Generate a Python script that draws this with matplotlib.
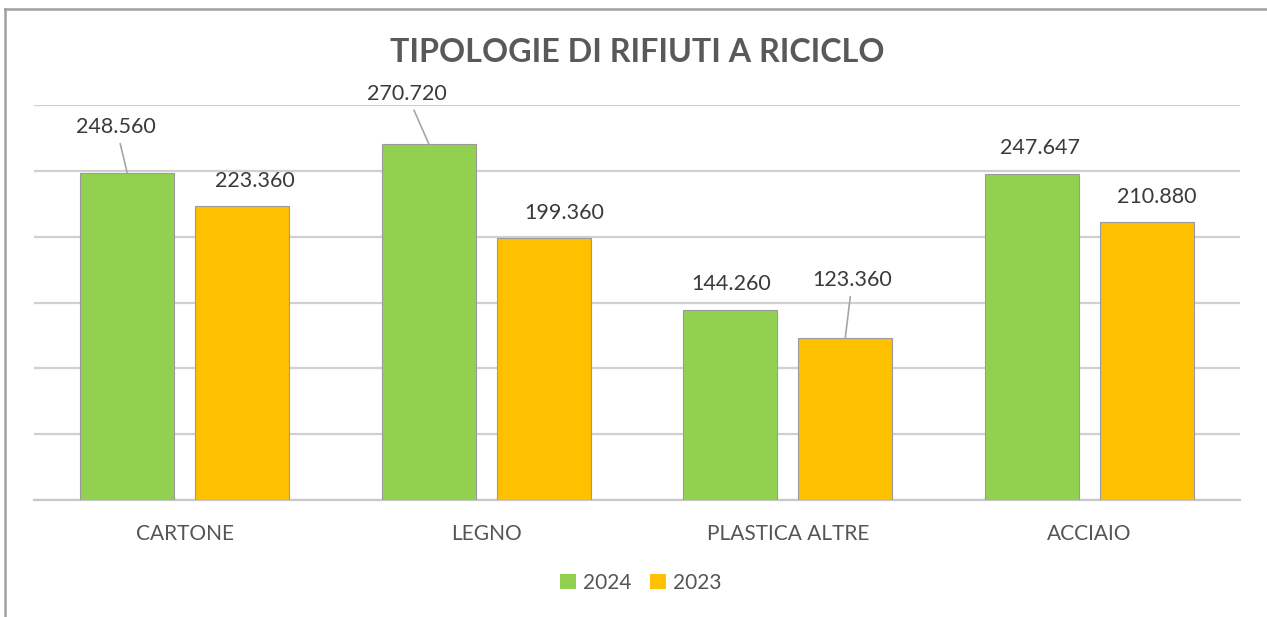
import matplotlib.pyplot as plt
from matplotlib.lines import Line2D
import numpy as np

plt.rcParams['font.family'] = ['Lato', 'DejaVu Sans']

categories = ['CARTONE', 'LEGNO', 'PLASTICA ALTRE', 'ACCIAIO']
series_names = ['2024', '2023']
values_2024 = [248560, 270720, 144260, 247647]
values_2023 = [223360, 199360, 123360, 210880]

# label offsets in pixels (dx, dy) from the bar top, and whether a leader line is drawn
offsets_2024 = [(-11, 46, True), (-22, 50, True), (1, 26, False), (8, 26, False)]
offsets_2023 = [(13, 25, False), (20, 25, False), (7, 58, True), (10, 25, False)]

green = '#92D050'
orange = '#FFC000'
text_col = '#3a3a3a'
grid_col = '#d0d0d0'


def fmt(v):
    return f"{v:,}".replace(",", ".")


fig = plt.figure(figsize=(12.67, 6.17), dpi=100)
ax = fig.add_axes([34 / 1267, 1 - 500 / 617, (1240 - 34) / 1267, 395 / 617])

x = np.arange(len(categories))
w = 0.312
off = 0.191

bars_a = ax.bar(x - off, values_2024, w, color=green, edgecolor='#9a9a9a', linewidth=0.8,
                label=series_names[0], zorder=3)
bars_b = ax.bar(x + off, values_2023, w, color=orange, edgecolor='#9a9a9a', linewidth=0.8,
                label=series_names[1], zorder=3)

ax.set_xlim(-0.5, len(categories) - 0.5)
ax.set_ylim(0, 300000)
ax.set_yticks(np.arange(0, 300001, 50000))
ax.yaxis.grid(True, color=grid_col, linewidth=1.6, zorder=0)
ax.set_axisbelow(True)
ax.tick_params(axis='y', left=False, labelleft=False)
ax.tick_params(axis='x', bottom=False, pad=14)
ax.set_xticks(x)
ax.set_xticklabels(categories, fontsize=15, color='#555555')
for s in ['top', 'right', 'left']:
    ax.spines[s].set_visible(False)
ax.spines['bottom'].set_color('#c8c8c8')
ax.spines['bottom'].set_linewidth(1.6)

px = 0.72
for bars, vals, offs in [(bars_a, values_2024, offsets_2024), (bars_b, values_2023, offsets_2023)]:
    for b, v, (dx, dy, lead) in zip(bars, vals, offs):
        xc = b.get_x() + b.get_width() / 2
        kw = {}
        if lead:
            kw['arrowprops'] = dict(arrowstyle='-', color='#a6a6a6', lw=1.2,
                                    shrinkA=3, shrinkB=0)
        ax.annotate(fmt(v), xy=(xc, v), xytext=(dx * px, dy * px),
                    textcoords='offset points', ha='center', va='center',
                    fontsize=15.5, color=text_col, **kw)

fig.text(0.503, 1 - 52 / 617, 'TIPOLOGIE DI RIFIUTI A RICICLO', ha='center', va='center',
         fontsize=23.2, fontweight='bold', color='#595959')

leg = fig.legend(loc='center', bbox_to_anchor=(641 / 1267, 1 - 583 / 617), ncol=2,
                 frameon=False, fontsize=15, handlelength=0.75, handleheight=0.75,
                 handletextpad=0.35, columnspacing=0.9)
for t in leg.get_texts():
    t.set_color('#555555')
for h in leg.legend_handles:
    h.set_edgecolor('none')

# outer frame (top and left edge)
fig.add_artist(Line2D([5 / 1267, 1], [1 - 9 / 617, 1 - 9 / 617], color='#a0a0a0', lw=1.8))
fig.add_artist(Line2D([5 / 1267, 5 / 1267], [0, 1 - 9 / 617], color='#a0a0a0', lw=1.8))

fig.savefig('out.png', dpi=100)
